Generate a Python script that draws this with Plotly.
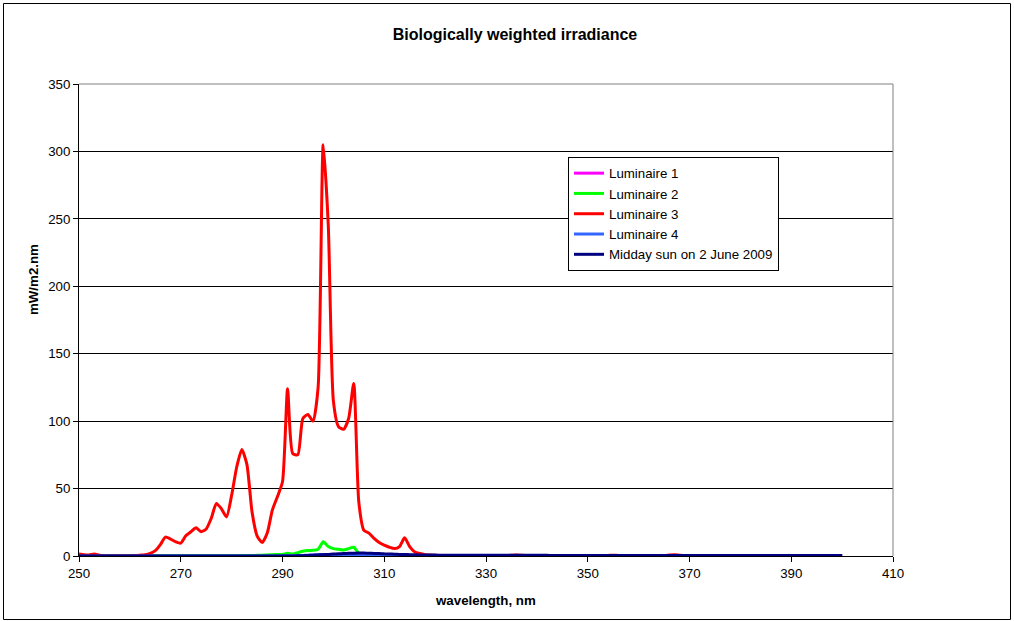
import plotly.graph_objects as go

wavelength = list(range(250, 401))

lum3_head = [1.5, 1.0, 0.8, 1.5, 0.5, 0.2, 0.1, 0.1, 0.1, 0.1,
             0.2, 0.3, 0.6, 1.0, 2.0, 4.0, 8.5, 14.0, 12.5, 10.5,
             9.5, 15.0, 18.0, 21.0, 18.0, 20.0, 28.0, 39.0, 35.0, 29.0,
             45.0, 66.0, 79.0, 68.0, 33.0, 15.0, 10.0, 17.0, 34.0, 44.0,
             55.0, 124.0, 76.0, 75.0, 102.0, 105.0, 100.0, 125.0, 305.0, 245.0,
             115.0, 96.0, 94.0, 102.0, 128.0, 40.0, 19.0, 17.0, 13.0, 10.0,
             8.0, 6.5, 5.5, 7.0, 13.5, 7.0, 3.0, 1.8, 1.0, 0.7,
             0.5]
lum3_tail = [0.4, 0.4, 0.3, 0.3, 0.3, 0.3, 0.3, 0.3, 0.3, 0.3,
             0.3, 0.3, 0.3, 0.3, 0.5, 0.8, 0.5, 0.3, 0.3, 0.3,
             0.3, 0.3, 0.3, 0.3, 0.3, 0.3, 0.3, 0.3, 0.3, 0.3,
             0.3, 0.3, 0.3, 0.4, 0.6, 0.4, 0.3, 0.3, 0.3, 0.3,
             0.3, 0.3, 0.3, 0.3, 0.4, 0.7, 1.0, 0.6, 0.3, 0.3,
             0.2, 0.2, 0.2, 0.2, 0.2, 0.2, 0.2, 0.2, 0.2, 0.2,
             0.2, 0.2, 0.2, 0.2, 0.2, 0.2, 0.2, 0.2, 0.2, 0.2,
             0.2, 0.2, 0.2, 0.2, 0.2, 0.2, 0.2, 0.2, 0.2, 0.2]
lum3 = lum3_head + lum3_tail

# Luminaire 2 (green)
lum2_head = [0.1, 0.1, 0.1, 0.1, 0.1, 0.1, 0.1, 0.1, 0.1, 0.1,
             0.1, 0.1, 0.1, 0.1, 0.1, 0.1, 0.1, 0.1, 0.1, 0.1,
             0.1, 0.1, 0.1, 0.1, 0.1, 0.1, 0.1, 0.1, 0.1, 0.1,
             0.2, 0.2, 0.3, 0.3, 0.4, 0.5, 0.6, 0.8, 1.0, 1.2,
             1.2, 2.0, 1.5, 2.5, 3.5, 4.0, 4.2, 5.0, 10.5, 7.0,
             5.5, 5.0, 4.5, 5.5, 6.5, 2.0, 1.0, 0.8, 0.6, 0.5,
             0.5, 0.5, 0.5, 0.6, 1.0, 0.6, 0.4, 0.3, 0.3, 0.2,
             0.2]
lum2_tail = [0.2, 0.2, 0.2, 0.2, 0.2, 0.2, 0.2, 0.2, 0.2, 0.2,
             0.2, 0.2, 0.2, 0.2, 0.2, 0.2, 0.2, 0.2, 0.2, 0.2,
             0.2, 0.2, 0.2, 0.2, 0.2, 0.2, 0.2, 0.2, 0.2, 0.2,
             0.2, 0.2, 0.2, 0.2, 0.2, 0.2, 0.2, 0.2, 0.2, 0.2,
             0.2, 0.2, 0.2, 0.2, 0.2, 0.2, 0.2, 0.2, 0.2, 0.2,
             0.1, 0.1, 0.1, 0.1, 0.1, 0.1, 0.1, 0.1, 0.1, 0.1,
             0.1, 0.1, 0.1, 0.1, 0.1, 0.1, 0.1, 0.1, 0.1, 0.1,
             0.1, 0.1, 0.1, 0.1, 0.1, 0.1, 0.1, 0.1, 0.1, 0.1]
lum2 = lum2_head + lum2_tail

# Luminaire 1 (magenta) - tiny
lum1 = ([0.0] * 45 +
        [0.1, 0.1, 0.2, 0.2, 0.3, 0.3, 0.3, 0.4, 0.4, 0.5,
         0.3, 0.2, 0.1, 0.1, 0.1, 0.1] +
        [0.05] * 90)

# Luminaire 4 (blue) - tiny
lum4 = ([0.0] * 40 +
        [0.1, 0.1, 0.2, 0.3, 0.4, 0.6, 0.8, 1.0, 1.2, 1.0,
         0.9, 0.8, 0.8, 0.8, 0.7, 0.5, 0.3, 0.2, 0.2, 0.2] +
        [0.1] * 91)

# Midday sun on 2 June 2009 (navy)
sun = ([0.0] * 43 +
       [0.1, 0.2, 0.4, 0.6, 0.8, 1.0, 1.2, 1.4, 1.6, 1.8,
        2.0, 2.1, 2.2, 2.2, 2.0, 1.9, 1.8, 1.6, 1.5, 1.3,
        1.2, 1.1, 1.0, 0.9, 0.8, 0.8, 0.7, 0.7, 0.6, 0.6] +
       [0.5] * 20 + [0.4] * 30 + [0.3] * 28)

series = [
    ("Luminaire 1", lum1, "#FF00FF"),
    ("Luminaire 2", lum2, "#00FF00"),
    ("Luminaire 3", lum3, "#FF0000"),
    ("Luminaire 4", lum4, "#3366FF"),
    ("Midday sun on 2 June 2009", sun, "#000080"),
]

x_ticks = [250, 270, 290, 310, 330, 350, 370, 390, 410]
y_ticks = [0, 50, 100, 150, 200, 250, 300, 350]

fig = go.Figure()
for name, vals, col in series:
    fig.add_trace(go.Scatter(
        x=wavelength[:len(vals)], y=vals, name=name, mode="lines",
        line=dict(color=col, width=3, shape="spline", smoothing=0.6),
    ))

FONT = "Arial, Liberation Sans, sans-serif"
W, H = 1014, 621
L, R, T, B = 79, 893, 84, 556
pw, ph = R - L, B - T
FS = 13.3

def px(xp):
    return (xp - L) / pw

def py(yp):
    return (B - yp) / ph

fig.update_layout(
    width=W, height=H,
    margin=dict(l=L, r=W - R, t=T, b=H - B, pad=0),
    paper_bgcolor="white", plot_bgcolor="white",
    font=dict(family=FONT, size=FS, color="black"),
    title=dict(text="<b>Biologically weighted irradiance</b>",
               x=515 / W, xanchor="center", y=1 - 34 / H, yanchor="middle",
               font=dict(size=16, family=FONT, color="black")),
    showlegend=True,
    legend=dict(x=px(568), y=py(157), xanchor="left", yanchor="top",
                bgcolor="white", bordercolor="black", borderwidth=1,
                font=dict(size=FS, family=FONT, color="black"),
                itemwidth=30, tracegroupgap=0),
    xaxis=dict(range=[250, 410], tickmode="array", tickvals=x_ticks,
               ticks="outside", ticklen=5, tickcolor="black",
               showline=True, linecolor="black", linewidth=1,
               showgrid=False, zeroline=False,
               tickfont=dict(size=FS, family=FONT)),
    yaxis=dict(range=[0, 350], tickmode="array", tickvals=y_ticks,
               ticks="outside", ticklen=5, tickcolor="black",
               showline=True, linecolor="black", linewidth=1,
               showgrid=True, gridcolor="#000000", gridwidth=1,
               zeroline=False,
               tickfont=dict(size=FS, family=FONT)),
    annotations=[
        dict(text="<b>wavelength, nm</b>", xref="paper", yref="paper",
             x=px(485), y=py(600), xanchor="center", yanchor="middle",
             showarrow=False, font=dict(size=FS, family=FONT, color="black")),
        dict(text="<b>mW/m2.nm</b>", xref="paper", yref="paper",
             x=px(33), y=py(280), xanchor="center", yanchor="middle",
             textangle=-90, showarrow=False,
             font=dict(size=FS, family=FONT, color="black")),
    ],
    shapes=[
        dict(type="line", xref="paper", yref="paper", x0=1, x1=1, y0=0, y1=1,
             line=dict(color="#808080", width=1)),
        dict(type="line", xref="paper", yref="paper", x0=0, x1=1, y0=1, y1=1,
             line=dict(color="#808080", width=1)),
        dict(type="rect", xref="paper", yref="paper",
             x0=px(3.5), x1=px(1010.5), y0=py(619.5), y1=py(3.5),
             line=dict(color="black", width=1), fillcolor="rgba(0,0,0,0)",
             layer="below"),
    ],
)

fig.write_html("out.html")
